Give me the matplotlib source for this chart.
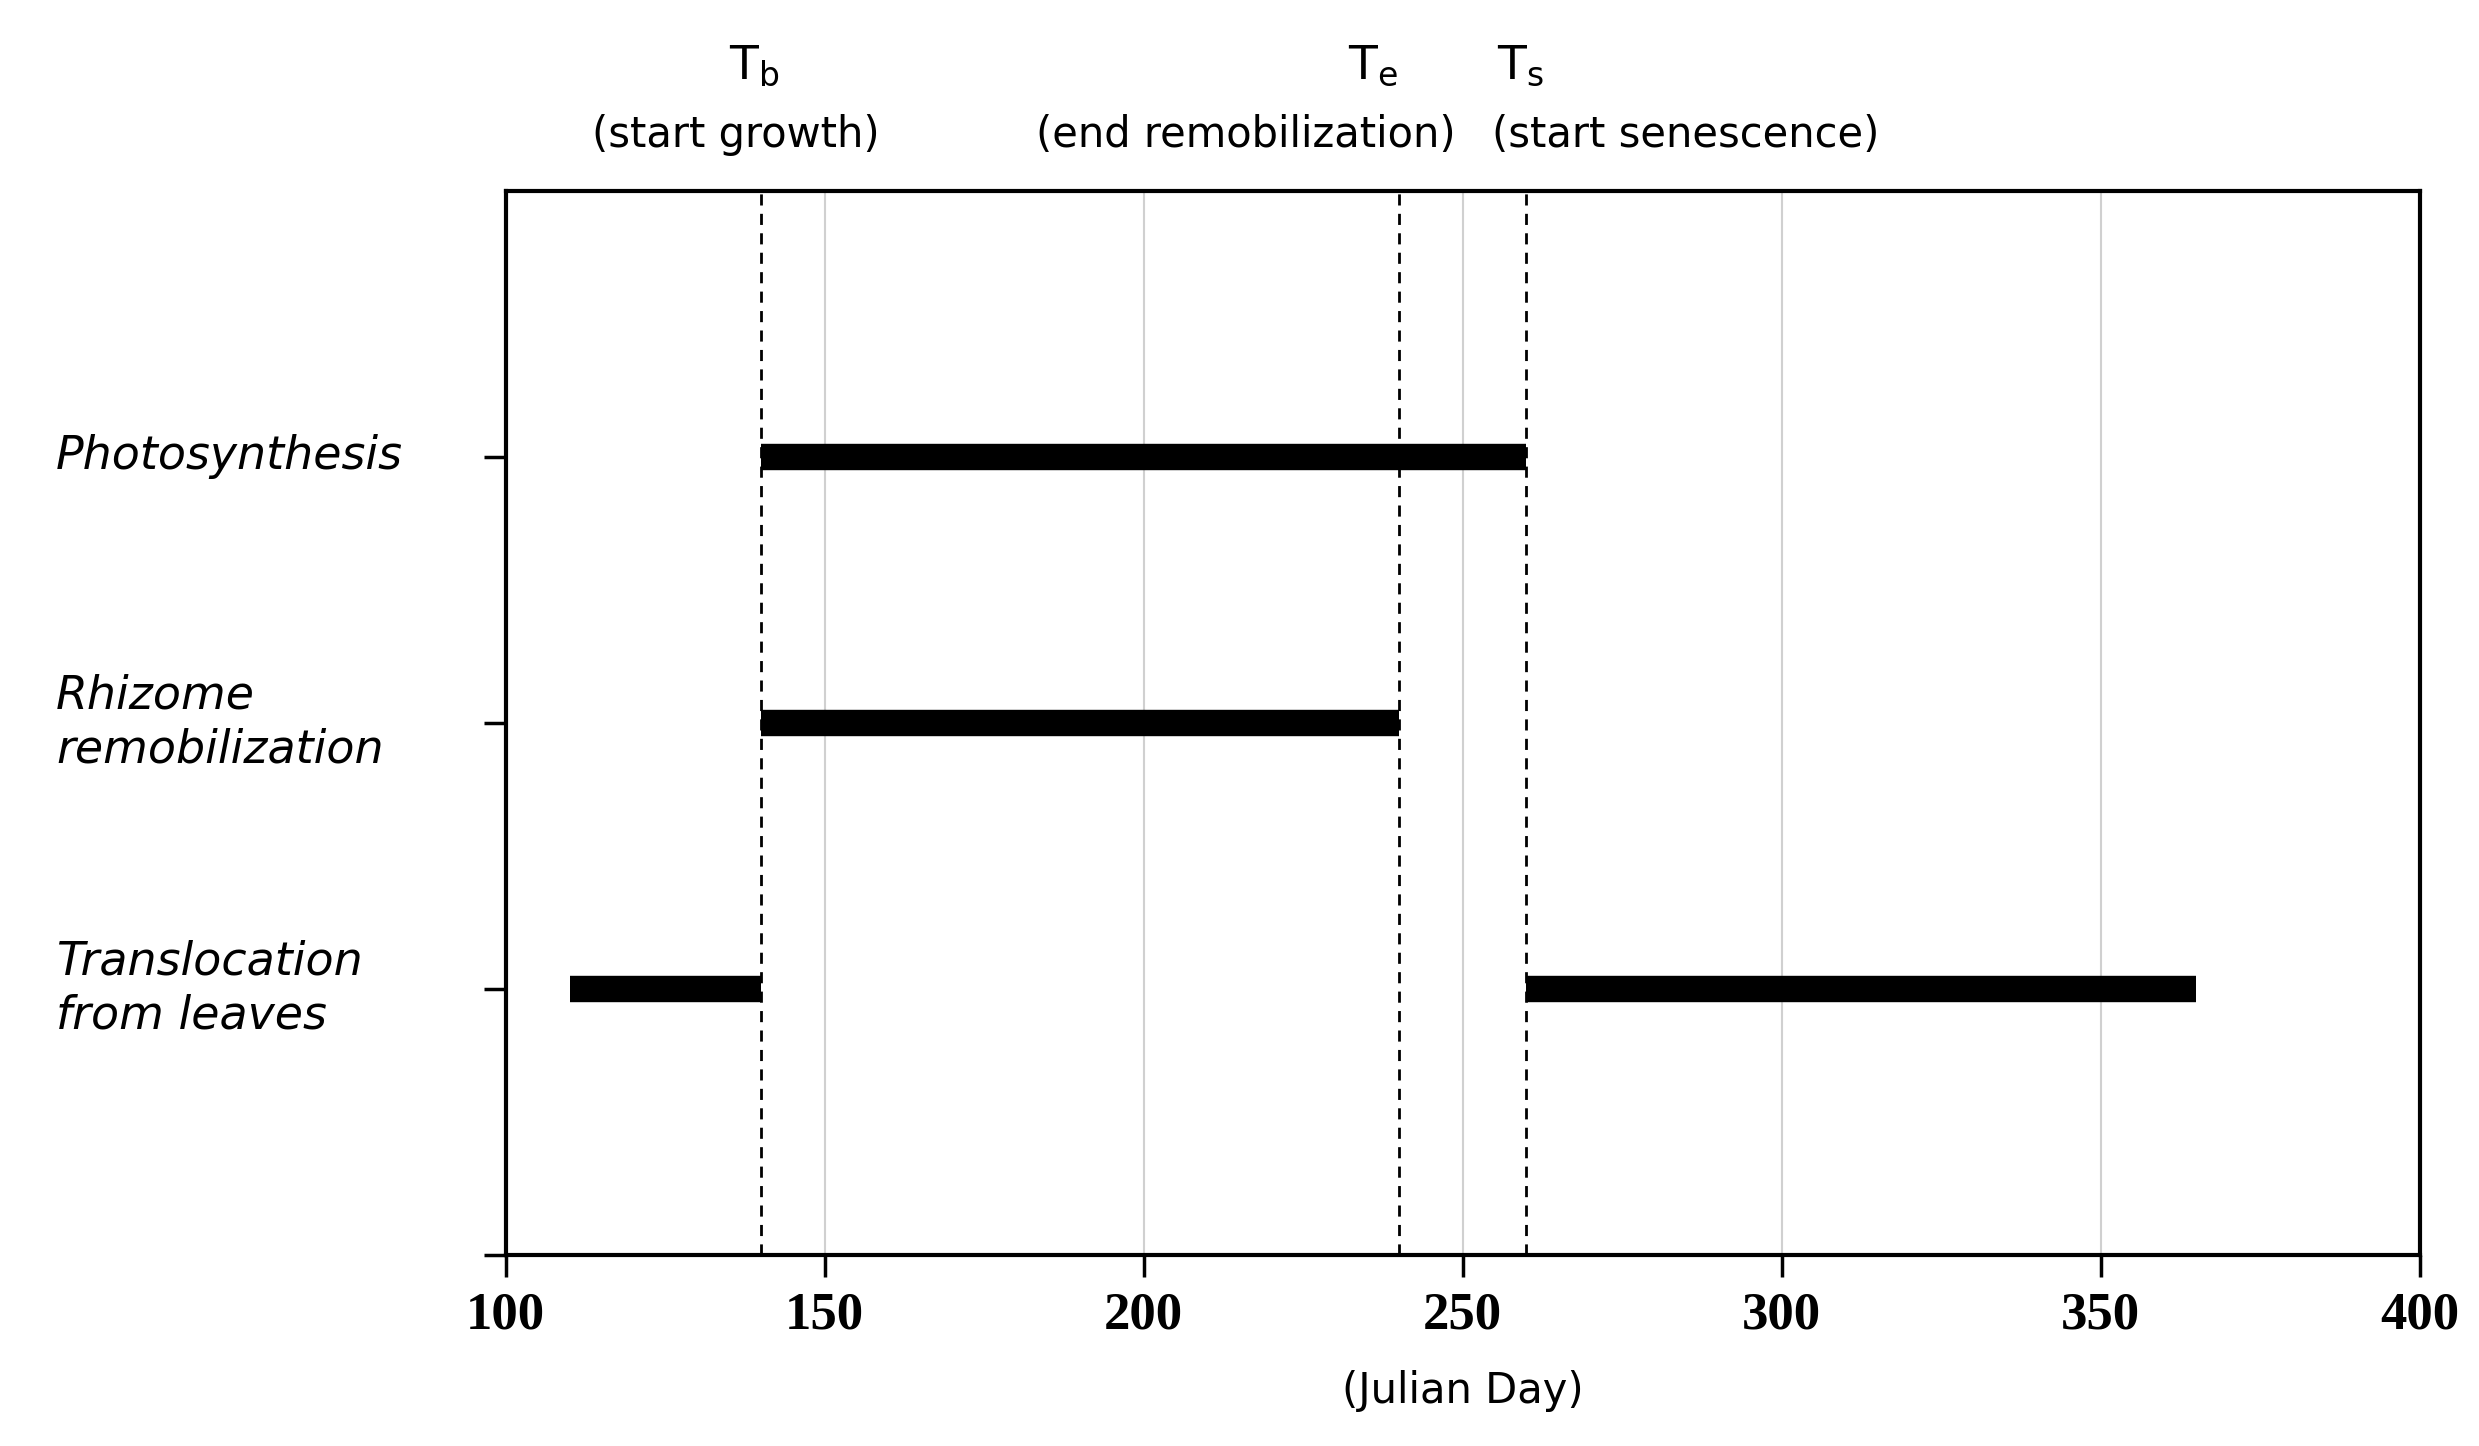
import matplotlib
matplotlib.use("Agg")
import matplotlib.pyplot as plt

categories = ["Translocation\nfrom leaves", "Rhizome\nremobilization", "Photosynthesis"]
cat_pos = [1, 2, 3]
segments = [[(110, 140), (260, 365)], [(140, 240)], [(140, 260)]]
event_days = [140, 240, 260]
event_syms = ["T$_\\mathregular{b}$", "T$_\\mathregular{e}$", "T$_\\mathregular{s}$"]
event_sym_x = [139, 236, 259]
event_desc = ["(start growth)", "(end remobilization)", "(start senescence)"]
event_desc_x = [136, 216, 285]
xticks = [100, 150, 200, 250, 300, 350, 400]

fig = plt.figure(figsize=(24.79, 14.46), dpi=100)
ax = fig.add_axes([0.204, 0.132, 0.772, 0.736])
ax.set_xlim(100, 400)
ax.set_ylim(0, 4)
for x in xticks[1:-1]:
    ax.axvline(x, color="#d0d0d0", lw=1.5, zorder=0)
for x in event_days:
    ax.axvline(x, color="black", ls=(0, (4, 3)), lw=2, zorder=1)
for y, segs in zip(cat_pos, segments):
    for a, b in segs:
        ax.plot([a, b], [y, y], color="black", lw=19, solid_capstyle="butt", zorder=2)
ax.set_xticks(xticks)
ax.set_xticklabels([str(v) for v in xticks], fontfamily="Liberation Serif", fontweight="bold", fontsize=38)
ax.set_yticks([0] + cat_pos)
ax.set_yticklabels([""] * 4)
ax.tick_params(axis="both", direction="out", length=16, width=2.5, pad=10)
for s in ax.spines.values():
    s.set_linewidth(3)
for y, c in zip(cat_pos, categories):
    ax.text(-0.235, y / 4, c, transform=ax.transAxes, style="italic", fontsize=33,
            ha="left", va="center", family="DejaVu Sans", linespacing=1.25)
for x, s in zip(event_sym_x, event_syms):
    ax.text(x, 4.47, s, ha="center", va="center", fontsize=34)
for x, s in zip(event_desc_x, event_desc):
    ax.text(x, 4.21, s, ha="center", va="center", fontsize=30)
ax.set_xlabel("(Julian Day)", fontsize=30, labelpad=22)
fig.savefig("out.png", dpi=100)
